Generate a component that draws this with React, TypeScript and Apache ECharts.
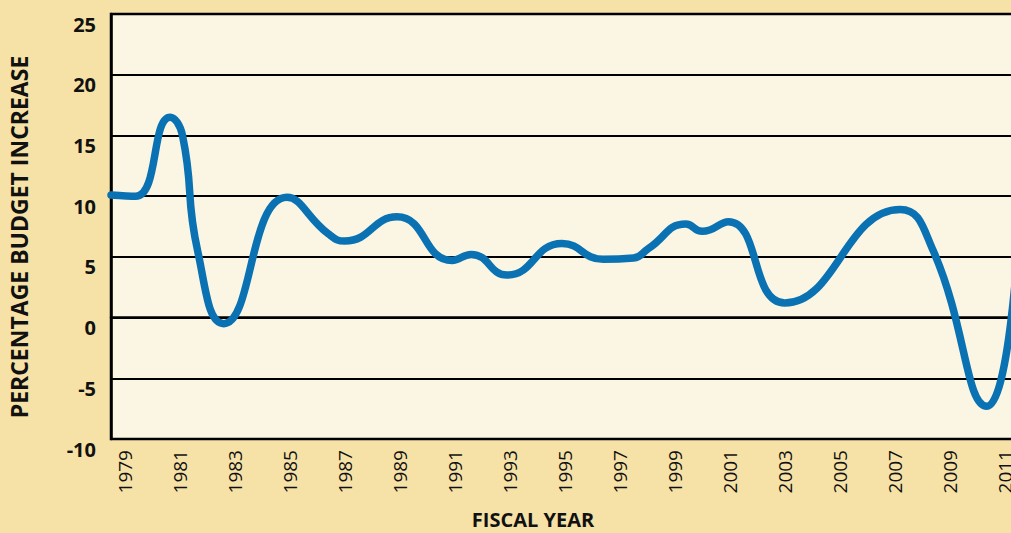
import React, { useEffect, useRef } from "react";
import * as echarts from "echarts";

const years = [
  1978.5, 1979.4, 1980.65, 1981.1, 1981.65, 1982.6, 1984.9, 1986.4,
  1987.0, 1988.9, 1990.9, 1991.6, 1992.9, 1994.9, 1996.4, 1997.5, 1998.05, 1999.4,
  2000.0, 2000.95, 2003.0, 2007.2, 2008.4, 2010.35, 2011.5,
];
const increases = [
  10.1, 10.0, 16.5, 15.0, 5.5, -0.5, 9.9, 6.9,
  6.3, 8.3, 4.7, 5.2, 3.5, 6.1, 4.8, 4.9, 5.7, 7.7,
  7.1, 7.9, 1.2, 8.9, 5.5, -7.3, 6.6,
];
const yearLabels = [
  1979, 1981, 1983, 1985, 1987, 1989, 1991, 1993, 1995, 1997, 1999, 2001, 2003,
  2005, 2007, 2009, 2011,
];
const yTitle = "PERCENTAGE BUDGET INCREASE";
const xTitle = "FISCAL YEAR";

export default function App() {
  const ref = useRef<HTMLDivElement>(null);
  useEffect(() => {
    if (!ref.current) return;
    const chart = echarts.init(ref.current, null, { renderer: "svg" });
    const font = "'Open Sans', 'Noto Sans', sans-serif";
    chart.setOption({
      animation: false,
      backgroundColor: "#F6E2A6",
      textStyle: { fontFamily: font },
      grid: {
        left: 111,
        top: 14,
        bottom: 94,
        width: 935,
        containLabel: false,
        outerBoundsMode: "none",
        show: true,
        backgroundColor: "#FBF5E4",
        borderColor: "#000",
        borderWidth: 2.5,
      },
      xAxis: {
        type: "value",
        min: 1978.5,
        max: 2012.5,
        axisLine: { show: true, lineStyle: { color: "#000", width: 2.5 } },
        axisTick: { show: false },
        splitLine: { show: false },
        axisLabel: {
          customValues: yearLabels,
          rotate: 90,
          margin: 11,
          fontSize: 19,
          color: "#111",
          fontFamily: font,
          formatter: (v: number) => String(v),
        },
      },
      yAxis: {
        type: "value",
        min: -10,
        max: 25,
        interval: 5,
        axisLine: { show: true, lineStyle: { color: "#000", width: 2.5 } },
        axisTick: { show: false },
        splitLine: { show: true, lineStyle: { color: "#000", width: 2 } },
        axisLabel: {
          margin: 15,
          fontSize: 20,
          fontWeight: "bold",
          color: "#111",
          verticalAlign: "top",
          fontFamily: font,
        },
      },
      graphic: [
        {
          type: "text",
          x: 19,
          y: 237,
          rotation: Math.PI / 2,
          style: {
            text: yTitle,
            fontSize: 23,
            fontWeight: "bold",
            fontFamily: font,
            fill: "#111",
            align: "center",
            verticalAlign: "middle",
          },
        },
        {
          type: "text",
          x: 533,
          y: 529,
          style: {
            text: xTitle,
            fontSize: 20,
            fontWeight: "bold",
            fontFamily: font,
            fill: "#111",
            align: "center",
            verticalAlign: "bottom",
          },
        },
      ],
      series: [
        {
          type: "line",
          data: years.map((y, i) => [y, increases[i]]),
          smooth: 0.5,
          showSymbol: false,
          symbol: "none",
          clip: true,
          lineStyle: { color: "#0A72B3", width: 7.5, cap: "round", join: "round" },
        },
      ],
    });
    return () => chart.dispose();
  }, []);
  return (
    <div
      ref={ref}
      style={{ position: "fixed", left: 0, top: 0, width: 1011, height: 533 }}
    />
  );
}
